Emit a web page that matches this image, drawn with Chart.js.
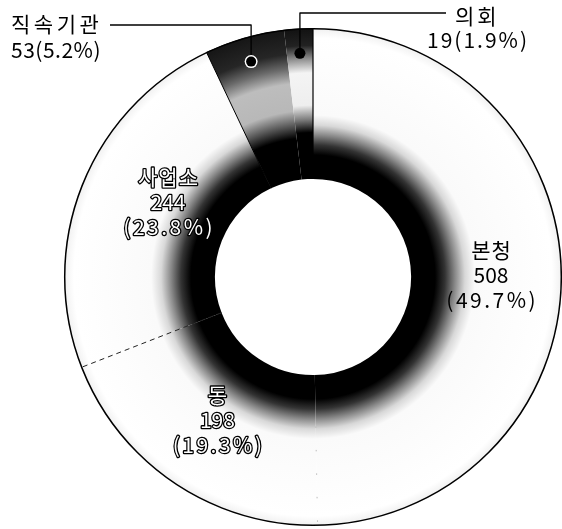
<!DOCTYPE html>
<html><head><meta charset="utf-8">
<script src="https://cdn.jsdelivr.net/npm/chart.js@4/dist/chart.umd.min.js"></script>
<style>html,body{margin:0;padding:0;background:#fff}</style>
</head><body>
<canvas id="c" width="562" height="529"></canvas>
<script>
const categories = ['본청', '동', '사업소', '직속기관', '의회'];
const counts = [508, 198, 244, 53, 19];
const shares = ['49.7%', '19.3%', '23.8%', '5.2%', '1.9%'];

const FONT = '21px "Noto Sans CJK KR", "Noto Sans", sans-serif';

const lightStops = [[0, '#000'], [0.39, '#000'], [0.49, '#000'], [0.53, '#333'], [0.57, '#888'], [0.61, '#d8d8d8'], [0.65, '#fafafa'], [0.96, '#fff'], [1, '#f0f0f0']];
const darkStopsA = [[0, '#000'], [0.39, '#000'], [0.56, '#000'], [0.61, '#555'], [0.67, '#b8b8b8'], [0.78, '#bdbdbd'], [0.84, '#6a6a6a'], [0.9, '#262626'], [1, '#151515']];
const darkStopsB = [[0, '#000'], [0.39, '#000'], [0.58, '#000'], [0.63, '#777'], [0.69, '#eee'], [0.82, '#f4f4f4'], [0.88, '#888'], [0.93, '#222'], [1, '#111']];

function sliceFill(ctx) {
  const chart = ctx.chart, a = chart.chartArea;
  if (!a) return '#fff';
  const cx = (a.left + a.right) / 2, cy = (a.top + a.bottom) / 2;
  const R = Math.min(a.right - a.left, a.bottom - a.top) / 2;
  const g = chart.ctx.createRadialGradient(cx, cy, 0, cx, cy, R);
  const stops = ctx.dataIndex === 3 ? darkStopsA : ctx.dataIndex === 4 ? darkStopsB : lightStops;
  stops.forEach(s => g.addColorStop(s[0], s[1]));
  return g;
}

// label placement (radius fraction, angle nudge in degrees, outlined) for inside labels
const insidePlacement = {0: [0.715, 0, false], 1: [0.69, 0, true], 2: [0.655, 5.6, true]};

function txt(ctx, t, x, y, spacing, outlined) {
  ctx.letterSpacing = spacing + 'px';
  let xx = x;
  if (ctx.textAlign === 'center') xx = x + spacing / 2;
  if (outlined) {
    ctx.lineWidth = 2.6; ctx.strokeStyle = '#000'; ctx.lineJoin = 'round';
    ctx.strokeText(t, xx, y);
    ctx.fillStyle = '#fff'; ctx.fillText(t, xx, y);
  } else {
    ctx.fillStyle = '#000'; ctx.fillText(t, xx, y);
  }
  ctx.letterSpacing = '0px';
}

const overlay = {
  id: 'overlay',
  afterDatasetsDraw(chart) {
    const ctx = chart.ctx;
    const arcs = chart.getDatasetMeta(0).data;
    const a0 = arcs[0];
    const cx = a0.x, cy = a0.y, R = a0.outerRadius, r = a0.innerRadius;
    ctx.save();
    const sep = (ang, style, r0) => {
      ctx.save();
      ctx.beginPath();
      ctx.moveTo(cx + Math.cos(ang) * (r0 || r), cy + Math.sin(ang) * (r0 || r));
      ctx.lineTo(cx + Math.cos(ang) * R, cy + Math.sin(ang) * R);
      ctx.lineWidth = style.w; ctx.strokeStyle = style.c; ctx.setLineDash(style.d || []);
      ctx.stroke();
      ctx.restore();
    };
    sep(arcs[0].startAngle, {w: 1.2, c: '#000'});
    sep(arcs[1].startAngle, {w: 1, c: '#bbb', d: [1.5, 22]}, R * 0.6);
    sep(arcs[2].startAngle, {w: 1, c: '#222', d: [5, 4]});
    sep(arcs[3].startAngle, {w: 1, c: '#000'});
    ctx.beginPath();
    ctx.arc(cx, cy, R - 0.7, 0, Math.PI * 2);
    ctx.lineWidth = 1.5; ctx.strokeStyle = '#000'; ctx.stroke();

    ctx.font = FONT; ctx.textAlign = 'center'; ctx.textBaseline = 'middle';
    Object.keys(insidePlacement).forEach(k => {
      const i = +k, el = arcs[i];
      const [f, nudge, outlined] = insidePlacement[k];
      const mid = (el.startAngle + el.endAngle) / 2 + nudge * Math.PI / 180;
      const x = cx + Math.cos(mid) * R * f, y = cy + Math.sin(mid) * R * f;
      txt(ctx, categories[i], x, y - 25, 1, outlined);
      txt(ctx, String(counts[i]), x, y, 0, outlined);
      txt(ctx, '(' + shares[i] + ')', x, y + 25, 2.5, outlined);
    });

    const dotOf = i => {
      const el = arcs[i], mid = (el.startAngle + el.endAngle) / 2;
      return [cx + Math.cos(mid) * R * 0.9, cy + Math.sin(mid) * R * 0.9];
    };
    ctx.lineWidth = 1.3; ctx.strokeStyle = '#000';
    let [dx, dy] = dotOf(3);
    ctx.beginPath(); ctx.moveTo(dx, dy); ctx.lineTo(dx, 25); ctx.lineTo(110, 25); ctx.stroke();
    ctx.beginPath(); ctx.arc(dx, dy, 6.5, 0, Math.PI * 2); ctx.fillStyle = '#fff'; ctx.fill();
    ctx.beginPath(); ctx.arc(dx, dy, 5, 0, Math.PI * 2); ctx.fillStyle = '#000'; ctx.fill();
    ctx.textAlign = 'left';
    txt(ctx, categories[3], 11, 24, 3.5, false);
    txt(ctx, counts[3] + '(' + shares[3] + ')', 11, 50, 0.5, false);
    [dx, dy] = dotOf(4);
    ctx.lineWidth = 1.3; ctx.strokeStyle = '#000';
    ctx.beginPath(); ctx.moveTo(dx, dy); ctx.lineTo(dx, 13); ctx.lineTo(446, 13); ctx.stroke();
    ctx.beginPath(); ctx.arc(dx, dy, 5.5, 0, Math.PI * 2); ctx.fillStyle = '#000'; ctx.fill();
    ctx.textAlign = 'left';
    txt(ctx, categories[4], 455, 16, 3, false);
    ctx.textAlign = 'center';
    txt(ctx, counts[4] + '(' + shares[4] + ')', 477, 40, 2, false);
    ctx.restore();
  }
};

new Chart(document.getElementById('c'), {
  type: 'doughnut',
  data: {
    labels: categories,
    datasets: [{
      data: counts,
      backgroundColor: sliceFill,
      borderWidth: 0,
      hoverOffset: 0
    }]
  },
  options: {
    responsive: false,
    animation: false,
    cutout: '39.4%',
    layout: {padding: {left: 64, right: 0, top: 28, bottom: 3}},
    plugins: {legend: {display: false}, tooltip: {enabled: false}}
  },
  plugins: [overlay]
});
</script>
</body></html>
